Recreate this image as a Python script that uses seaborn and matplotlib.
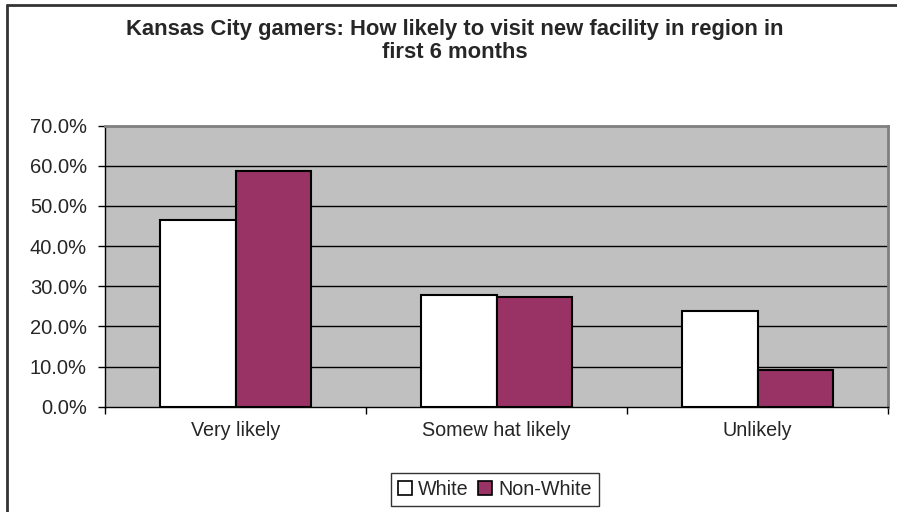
import pandas as pd
import seaborn as sns
import matplotlib.pyplot as plt
from matplotlib.lines import Line2D
from matplotlib.patches import Patch
from matplotlib.ticker import FuncFormatter, FixedLocator

# Data
categories = ['Very likely', 'Somew hat likely', 'Unlikely']
white = [0.465, 0.278, 0.239]
non_white = [0.588, 0.273, 0.091]
groups = ['White', 'Non-White']
colors = {'White': '#FFFFFF', 'Non-White': '#993366'}

df = pd.DataFrame({
    'Category': categories * 2,
    'Share': white + non_white,
    'Group': ['White'] * 3 + ['Non-White'] * 3,
})

sns.set_style('white')
plt.rcParams['font.family'] = ['Liberation Sans', 'DejaVu Sans']

fig = plt.figure(figsize=(8.97, 5.12), dpi=100)
ax = fig.add_axes([105 / 897, 1 - 406.7 / 512, 783 / 897, 281 / 512])
ax.set_facecolor('#C0C0C0')

# gridlines behind bars
for v in [0.1, 0.2, 0.3, 0.4, 0.5, 0.6]:
    ax.axhline(v, color='black', lw=1, zorder=0.5)

sns.barplot(data=df, x='Category', y='Share', hue='Group', hue_order=groups,
            palette=colors, width=0.58, gap=0, edgecolor='black', linewidth=1.5,
            saturation=1, ax=ax, legend=False, zorder=2)

ax.set_xlim(-0.5, 2.5)
ax.set_ylim(0, 0.7)
ax.set_xlabel('')
ax.set_ylabel('')

ax.yaxis.set_major_locator(FixedLocator([i / 10 for i in range(8)]))
ax.yaxis.set_major_formatter(FuncFormatter(lambda v, p: f'{v * 100:.1f}%'))
ax.tick_params(axis='y', length=5, width=1, color='black', pad=8, labelsize=14.5, left=True)
ax.tick_params(axis='x', which='major', length=0, pad=10, labelsize=14.2)
ax.xaxis.set_minor_locator(FixedLocator([-0.5, 0.5, 1.5, 2.5]))
ax.tick_params(axis='x', which='minor', length=5, width=1, color='black', bottom=True)

for s in ['top', 'right']:
    ax.spines[s].set_color('#808080')
    ax.spines[s].set_linewidth(2)
for s in ['left', 'bottom']:
    ax.spines[s].set_color('black')
    ax.spines[s].set_linewidth(1)

# Title
fig.text(455 / 897, 1 - 41 / 512,
         'Kansas City gamers: How likely to visit new facility in region in\nfirst 6 months',
         ha='center', va='center', fontsize=15.8, fontweight='bold', linespacing=1.15)

# Legend
handles = [Patch(facecolor=colors[g], edgecolor='black', linewidth=1.2) for g in groups]
leg = fig.legend(handles, groups, loc='center', bbox_to_anchor=(495 / 897, 1 - 489.5 / 512),
                 ncol=2, frameon=True, fancybox=False, fontsize=14.2,
                 handlelength=0.7, handleheight=0.7, handletextpad=0.3, columnspacing=0.5,
                 borderpad=0.35, borderaxespad=0)
leg.get_frame().set_edgecolor('black')
leg.get_frame().set_linewidth(1)

# outer chart frame (left and top edges visible)
fig.add_artist(Line2D([7 / 897, 7 / 897], [0, 1 - 5 / 512], color='#333333', lw=2, transform=fig.transFigure))
fig.add_artist(Line2D([7 / 897, 1], [1 - 5 / 512, 1 - 5 / 512], color='#333333', lw=2, transform=fig.transFigure))

fig.savefig('out.png', dpi=100, facecolor='white')
